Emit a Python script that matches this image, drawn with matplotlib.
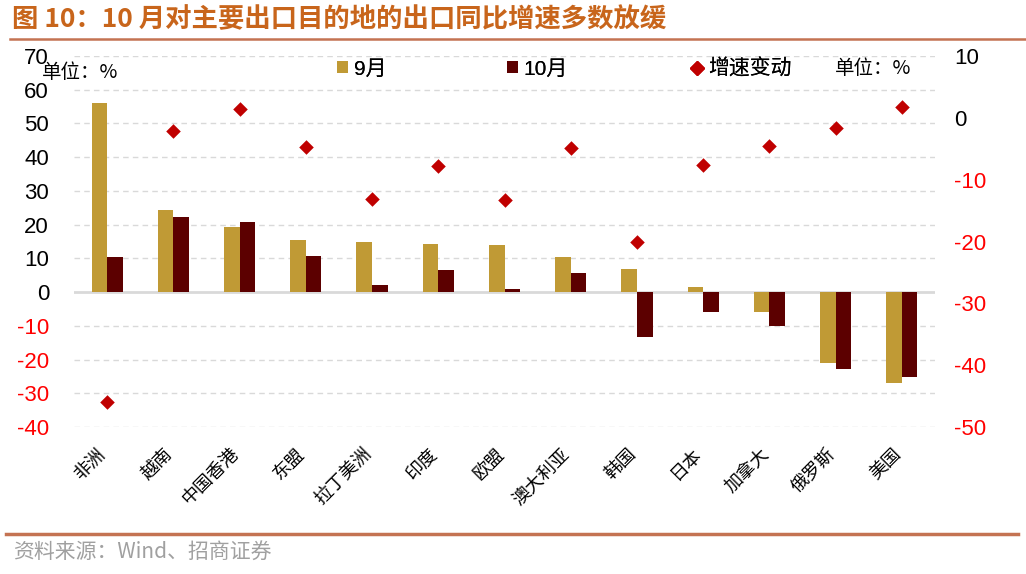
import matplotlib
matplotlib.use("Agg")
import matplotlib.pyplot as plt
from matplotlib.lines import Line2D
from matplotlib.patches import Patch
import matplotlib.transforms as mtransforms
import numpy as np

categories = ["非洲", "越南", "中国香港", "东盟", "拉丁美洲", "印度", "欧盟",
              "澳大利亚", "韩国", "日本", "加拿大", "俄罗斯", "美国"]
sep_values = [56.2, 24.3, 19.3, 15.4, 15.0, 14.2, 14.0, 10.5, 6.8, 1.6, -5.8, -21.1, -27.0]
oct_values = [10.3, 22.2, 20.7, 10.8, 2.0, 6.5, 0.8, 5.7, -13.2, -5.8, -10.1, -22.7, -25.3]
change_values = [-46.0, -2.2, 1.5, -4.7, -13.2, -7.8, -13.3, -4.9, -20.1, -7.6, -4.5, -1.6, 1.8]
left_ticks = [70, 60, 50, 40, 30, 20, 10, 0, -10, -20, -30, -40]
right_ticks = [10, 0, -10, -20, -30, -40, -50]

CJK = ["Noto Sans CJK SC", "DejaVu Sans"]
NUM = ["Liberation Sans", "Noto Sans CJK SC", "DejaVu Sans"]
plt.rcParams["font.family"] = NUM

GOLD = "#C09A35"
MAROON = "#5C0000"
DIAMOND = "#C00000"
LINE = "#C47352"

fig = plt.figure(figsize=(10.26, 5.74), dpi=100)
ax = fig.add_axes([74/1026, 1-427/574, (935-74)/1026, (427-56)/574])
ax2 = ax.twinx()

x = np.arange(len(categories))
w = 0.235
ax.bar(x - w/2, sep_values, width=w, color=GOLD, zorder=3)
ax.bar(x + w/2, oct_values, width=w, color=MAROON, zorder=3)
ax2.scatter(x, change_values, marker="D", s=55, color=DIAMOND, zorder=4, linewidths=0)

ax.set_xlim(-0.5, len(categories) - 0.5)
ax.set_ylim(-40, 70)
ax2.set_ylim(-50, 10)
ax.set_yticks(left_ticks)
ax2.set_yticks(right_ticks)
ax.set_yticklabels([str(v) for v in left_ticks], fontsize=16)
ax2.set_yticklabels([str(v) for v in right_ticks], fontsize=16)
for t, v in zip(ax.get_yticklabels(), left_ticks):
    t.set_color("#FF0000" if v < 0 else "black")
for t, v in zip(ax2.get_yticklabels(), right_ticks):
    t.set_color("#FF0000" if v < 0 else "black")

for v in left_ticks:
    if v != 0:
        ax.axhline(v, color="#D9D9D9", lw=1.0, ls=(0, (4, 3)), zorder=1)
ax.axhline(0, color="#D9D9D9", lw=2.0, zorder=2)

for a in (ax, ax2):
    for s in a.spines.values():
        s.set_visible(False)
ax.tick_params(axis="y", length=0, pad=18)
ax2.tick_params(axis="y", length=0, pad=14)
ax.tick_params(axis="x", length=0, pad=2)
ax.set_xticks(x)
ax.set_xticklabels(categories, rotation=45, ha="right", va="top",
                   rotation_mode="anchor", fontsize=13, family=CJK)
offset = mtransforms.ScaledTranslation(-10/100, -15/100, fig.dpi_scale_trans)
for lab in ax.get_xticklabels():
    lab.set_transform(lab.get_transform() + offset)

ax.set_zorder(ax2.get_zorder() - 1)
ax2.patch.set_visible(False)

legend_items = [
    (Patch(facecolor=GOLD, label="9月"), 337),
    (Patch(facecolor=MAROON, label="10月"), 507),
    (Line2D([], [], marker="D", ls="", color=DIAMOND, markersize=7, label="增速变动"), 691),
]
for h, px in legend_items:
    lg = fig.legend(handles=[h], loc="center left", bbox_to_anchor=(px/1026, 1-69/574),
                    frameon=False, fontsize=15, handlelength=0.55, handleheight=0.55,
                    handletextpad=0.25, borderaxespad=0, borderpad=0)
    fig.add_artist(lg)

fig.text(42/1026, 1-72/574, "单位：%", family=CJK, fontsize=14, va="center", ha="left")
fig.text(835/1026, 1-68/574, "单位：%", family=CJK, fontsize=14, va="center", ha="left")

fig.text(12/1026, 1-20/574, "图 10：10 月对主要出口目的地的出口同比增速多数放缓",
         family=CJK, fontsize=19, fontweight="bold", color="#C8651B", va="center", ha="left")
fig.add_artist(Line2D([10/1026, 1.0], [1-39/574, 1-39/574], color=LINE, lw=1.8,
                      transform=fig.transFigure))
fig.add_artist(Line2D([6/1026, 1018/1026], [1-534/574, 1-534/574], color=LINE, lw=2.5,
                      transform=fig.transFigure))
fig.text(13/1026, 1-552/574, "资料来源：Wind、招商证券", family=CJK, fontsize=15,
         color="#A0A0A0", va="center", ha="left")

fig.savefig("out.png", dpi=100)
